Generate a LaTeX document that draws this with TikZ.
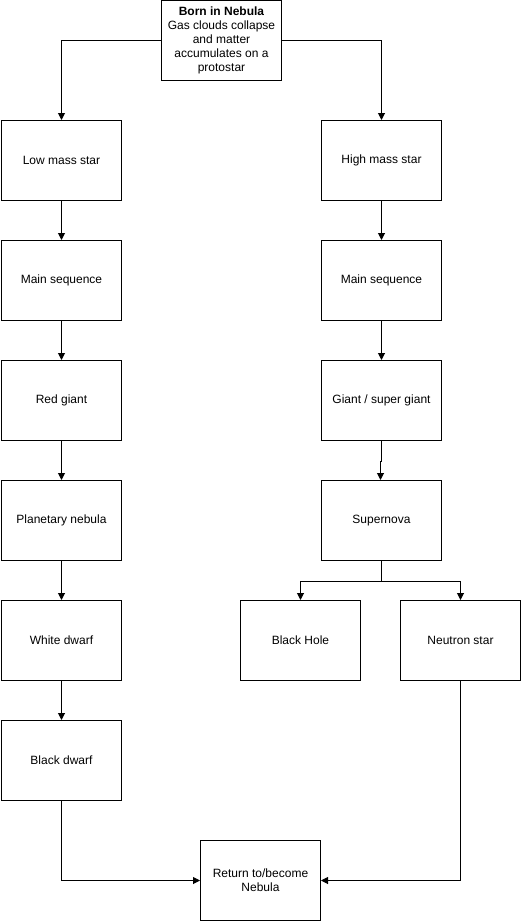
\documentclass[tikz,border=0pt]{standalone}
\usepackage{fontspec}
\setmainfont{Liberation Sans}
\usetikzlibrary{arrows.meta}
\begin{document}
\begin{tikzpicture}[x=1pt,y=-1pt,
  stage/.style={draw=black,line width=1pt,minimum width=120pt,minimum height=80pt,
    inner sep=0pt,align=center,font=\fontsize{12}{14}\selectfont,anchor=north west},
  flow/.style={draw=black,line width=1pt,-{Triangle[width=7pt,length=7pt]}}]
\useasboundingbox (0,0) rectangle (521,921);
% origin
\node[stage] (nebula) at (161,0) {\textbf{Born in Nebula}\\Gas clouds collapse\\and matter\\accumulates on a\\protostar};
% low mass branch
\node[stage] (low)  at (1,120) {Low mass star};
\node[stage] (lms)  at (1,240) {Main sequence};
\node[stage] (red)  at (1,360) {Red giant};
\node[stage] (pneb) at (1,480) {Planetary nebula};
\node[stage] (wd)   at (1,600) {White dwarf};
\node[stage] (bd)   at (1,720) {Black dwarf};
% high mass branch
\node[stage] (high) at (321,120) {High mass star};
\node[stage] (hms)  at (321,240) {Main sequence};
\node[stage] (giant) at (321,360) {Giant / super giant};
\node[stage] (sn)   at (321,480) {Supernova};
\node[stage] (bh)   at (240,600) {Black Hole};
\node[stage] (ns)   at (400,600) {Neutron star};
% end state
\node[stage] (ret)  at (200,840) {Return to/become\\Nebula};
% connectors
\draw[flow] (nebula.west) -| (low.north);
\draw[flow] (nebula.east) -| (high.north);
\draw[flow] (low) -- (lms);
\draw[flow] (lms) -- (red);
\draw[flow] (red) -- (pneb);
\draw[flow] (pneb) -- (wd);
\draw[flow] (wd) -- (bd);
\draw[flow] (high) -- (hms);
\draw[flow] (hms) -- (giant);
\draw[flow] (giant.south) -- ++(0,20) -| ([xshift=-1pt]sn.north);
\coordinate (split) at ([yshift=-20pt]sn.south);
\draw[line width=1pt] (sn.south) -- (split);
\draw[flow] (split) -| (bh.north);
\draw[flow] (split) -| (ns.north);
\draw[flow] (bd.south) |- (ret.west);
\draw[flow] (ns.south) |- (ret.east);
\end{tikzpicture}
\end{document}
